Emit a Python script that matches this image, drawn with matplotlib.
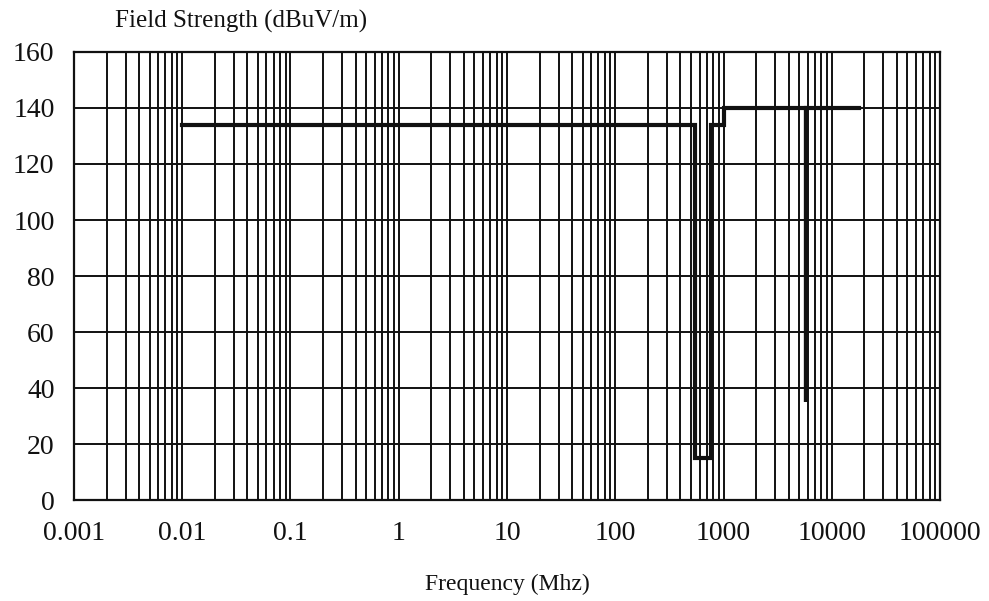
import matplotlib
matplotlib.use('Agg')
import matplotlib.pyplot as plt
from matplotlib.ticker import LogLocator, NullFormatter
import numpy as np

plt.rcParams['font.family'] = ['Liberation Serif', 'DejaVu Serif']

# limit line (MHz, dBuV/m), drawn as steps
freq = [0.01, 550, 550, 770, 770, 1000, 1000, 5800, 5800, 5800, 18000]
level = [134, 134, 15, 15, 134, 134, 140, 140, 35, 140, 140]

xticks = [0.001, 0.01, 0.1, 1, 10, 100, 1000, 10000, 100000]
xlabels = ['0.001', '0.01', '0.1', '1', '10', '100', '1000', '10000', '100000']
yticks = [0, 20, 40, 60, 80, 100, 120, 140, 160]

fig = plt.figure(figsize=(9.89, 6.01), dpi=100)
ax = fig.add_axes([0.0748, 0.168, 0.8757, 0.7455])

ax.plot(freq, level, color='#111111', lw=3, solid_joinstyle='miter')
ax.set_xscale('log')
ax.set_xlim(0.001, 100000)
ax.set_ylim(0, 160)

ax.set_xticks(xticks)
ax.set_xticklabels(xlabels)
ax.xaxis.set_minor_locator(LogLocator(base=10, subs=np.arange(2, 10), numticks=100))
ax.xaxis.set_minor_formatter(NullFormatter())
ax.set_yticks(yticks)

ax.grid(True, which='both', axis='x', color='#111111', lw=1.4)
ax.grid(True, which='major', axis='y', color='#111111', lw=1.4)
ax.tick_params(which='both', length=0, labelsize=20, colors='#111111')
ax.tick_params(axis='x', pad=15)
ax.tick_params(axis='y', pad=14)
for s in ax.spines.values():
    s.set_color('#111111')
    s.set_linewidth(1.6)

fig.text(0.116, 0.965, 'Field Strength (dBuV/m)', fontsize=18, color='#111111', va='center')
fig.text(0.513, 0.028, 'Frequency (Mhz)', fontsize=17, color='#111111', ha='center', va='center')

fig.savefig('out.png', dpi=100)
